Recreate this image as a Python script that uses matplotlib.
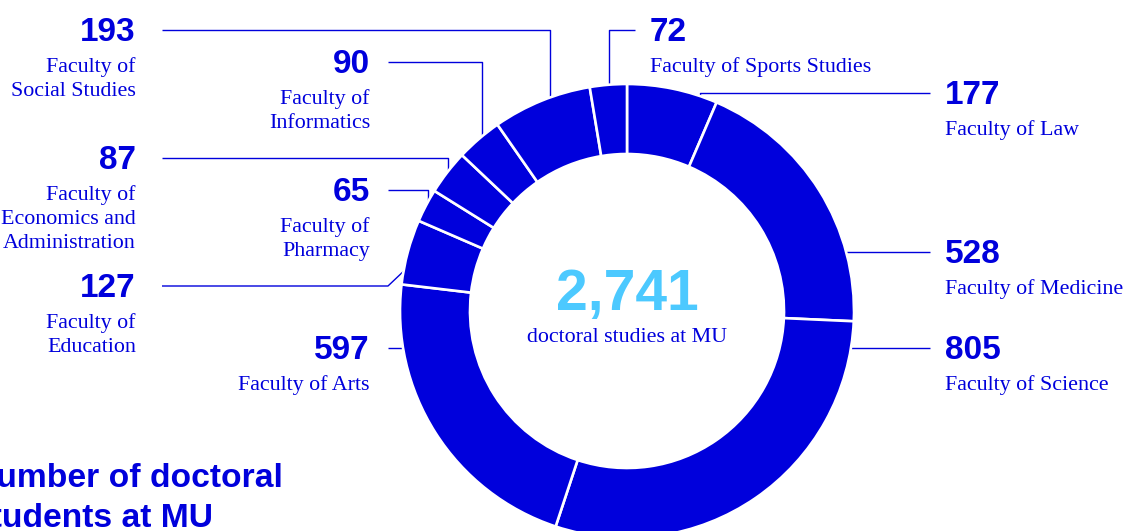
import matplotlib.pyplot as plt

# faculties, clockwise from the top of the ring
faculties = ['Faculty of Law', 'Faculty of Medicine', 'Faculty of Science', 'Faculty of Arts',
             'Faculty of\nEducation', 'Faculty of\nPharmacy', 'Faculty of\nEconomics and\nAdministration',
             'Faculty of\nInformatics', 'Faculty of\nSocial Studies', 'Faculty of Sports Studies']
students = [177, 528, 805, 597, 127, 65, 87, 90, 193, 72]
center_caption = 'doctoral studies at MU'
title_lines = ['Number of doctoral', 'students at MU']

BLUE = '#0000DC'
LIGHT = '#4CC9FF'
W, H = 1123, 531

# label layout (pixel units): x anchor, alignment, leader y, leader path
layout = [
    (945, 'left', 93, [(930, 93), (700, 93), (700, 110)]),
    (945, 'left', 252, [(930, 252), (840, 252)]),
    (945, 'left', 348, [(930, 348), (840, 348)]),
    (370, 'right', 348, [(388, 348), (420, 348)]),
    (136, 'right', 286, [(162, 286), (388, 286), (407, 268), (420, 256)]),
    (370, 'right', 190, [(388, 190), (428, 190), (428, 212)]),
    (136, 'right', 158, [(162, 158), (448, 158), (448, 185)]),
    (370, 'right', 62, [(388, 62), (482, 62), (482, 150)]),
    (136, 'right', 30, [(162, 30), (550, 30), (550, 120)]),
    (650, 'left', 30, [(635, 30), (609, 30), (609, 100)]),
]

fig = plt.figure(figsize=(W / 100, H / 100), dpi=100)
ax = fig.add_axes([0, 0, 1, 1])

# y axis is flipped below, so -90 / counterclock draws clockwise from the top
ax.pie(students, center=(627, 311), radius=227, startangle=-90, counterclock=True,
       colors=[BLUE] * len(students),
       wedgeprops=dict(width=70, edgecolor='white', linewidth=1.9, zorder=3))

num_font = dict(family='Liberation Sans', weight='bold', color=BLUE)
lab_font = dict(family='Liberation Serif', color=BLUE)

for n, lab, (x, ha, ly, path) in zip(students, faculties, layout):
    xs = [p[0] for p in path]
    ys = [p[1] for p in path]
    ax.plot(xs, ys, color=BLUE, lw=1.0, zorder=1, solid_capstyle='butt')
    ax.text(x, ly + 11, str(n), ha=ha, va='baseline', fontsize=24, **num_font)
    for i, line in enumerate(lab.split('\n')):
        ax.text(x, ly + 42 + 24 * i, line, ha=ha, va='baseline', fontsize=15.8, **lab_font)

ax.text(627, 310, f'{sum(students):,}', ha='center', va='baseline', fontsize=41,
        family='Liberation Sans', weight='bold', color=LIGHT)
ax.text(627, 342, center_caption, ha='center', va='baseline', fontsize=15.8, **lab_font)

# title runs off the left edge, as in the original crop
for i, t in enumerate(title_lines):
    ax.text(-28, 487 + 40 * i, t, ha='left', va='baseline', fontsize=24.2, **num_font)

ax.set_xlim(0, W)
ax.set_ylim(H, 0)
ax.set_aspect('equal')
ax.axis('off')

fig.savefig('out.png', dpi=100)
